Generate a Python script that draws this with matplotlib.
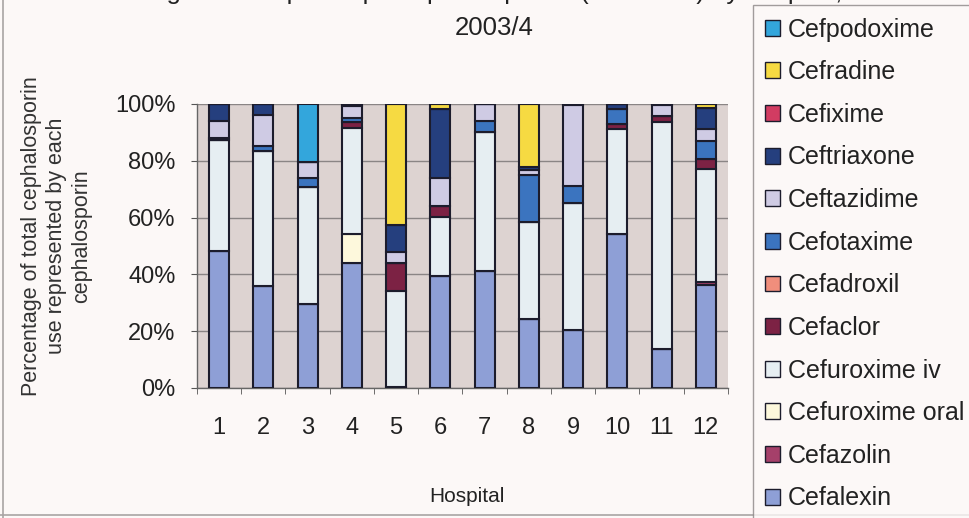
import numpy as np
import matplotlib
matplotlib.use("Agg")
import matplotlib.pyplot as plt
from matplotlib.patches import Patch
from matplotlib.lines import Line2D

plt.rcParams['font.family'] = ['Liberation Sans', 'DejaVu Sans']

# --- Дані: частка кожного цефалоспорину (%) по лікарнях ---
hospitals = ['1', '2', '3', '4', '5', '6', '7', '8', '9', '10', '11', '12']

drugs = ['Cefalexin', 'Cefazolin', 'Cefuroxime oral', 'Cefuroxime iv',
         'Cefaclor', 'Cefadroxil', 'Cefotaxime', 'Ceftazidime',
         'Ceftriaxone', 'Cefixime', 'Cefradine', 'Cefpodoxime']

cefalexin      = [48.2, 36.0, 29.7, 43.9, 0.5, 39.5, 41.1, 24.2, 20.3, 54.2, 13.6, 36.2]
cefazolin      = [0, 0, 0, 0, 0, 0, 0, 0, 0, 0, 0, 1.0]
cefuroxime_or  = [0, 0, 0, 10.2, 0, 0, 0, 0, 0, 0, 0, 0]
cefuroxime_iv  = [39.1, 47.4, 41.2, 37.6, 33.6, 20.8, 49.1, 34.1, 45.0, 36.9, 79.9, 39.8]
cefaclor       = [0, 0, 0, 2.1, 10.0, 3.7, 0, 0, 0, 1.7, 2.2, 3.5]
cefadroxil     = [0, 0, 0, 0, 0, 0, 0, 0, 0, 0, 0, 0]
cefotaxime     = [0.7, 1.8, 2.9, 1.2, 0, 0, 3.8, 16.7, 5.9, 5.6, 0, 6.6]
ceftazidime    = [6.0, 10.9, 5.9, 4.3, 3.8, 9.8, 6.0, 1.7, 28.4, 0, 3.9, 4.0]
ceftriaxone    = [6.0, 3.9, 0, 0.7, 9.4, 24.4, 0, 1.0, 0.4, 1.6, 0.4, 7.4]
cefixime       = [0, 0, 0, 0, 0, 0, 0, 0, 0, 0, 0, 0]
cefradine      = [0, 0, 0, 0, 42.7, 1.8, 0, 22.3, 0, 0, 0, 1.5]
cefpodoxime    = [0, 0, 20.3, 0, 0, 0, 0, 0, 0, 0, 0, 0]

series = [cefalexin, cefazolin, cefuroxime_or, cefuroxime_iv, cefaclor,
          cefadroxil, cefotaxime, ceftazidime, ceftriaxone, cefixime,
          cefradine, cefpodoxime]

colors = ['#8e9fd6', '#a5406a', '#fdf8dc', '#e6eef2', '#7c2244', '#f08e7c',
          '#3b74bf', '#cfcbe4', '#253f7e', '#d23c62', '#f6da42', '#33a6dc']

fig = plt.figure(figsize=(9.7, 5.18), dpi=100, facecolor='#fcf8f7')
ax = fig.add_axes([197 / 970, 1 - 388 / 518, 531 / 970, 284 / 518])
ax.set_facecolor('#ddd3d1')

x = np.arange(len(hospitals))
bottom = np.zeros(len(hospitals))
for vals, col in zip(series, colors):
    vals = np.array(vals, dtype=float)
    ax.bar(x, vals, bottom=bottom, width=0.45, color=col,
           edgecolor='#1c1c2c', linewidth=1.5, zorder=3)
    bottom += vals

ax.set_xlim(-0.5, len(hospitals) - 0.5)
ax.set_ylim(0, 100)
ax.set_yticks(np.arange(0, 101, 20))
ax.set_yticklabels([f'{v}%' for v in range(0, 101, 20)], fontsize=17, color='#222222')
ax.yaxis.grid(True, color='#8a8585', linewidth=1.0, zorder=0)

# підписи по центру категорій, риски - на межах
ax.set_xticks(x)
ax.set_xticklabels(hospitals, fontsize=17, color='#222222')
ax.tick_params(axis='x', length=0, pad=21)
ax.set_xticks(np.arange(-0.5, len(hospitals)), minor=True)
ax.tick_params(axis='x', which='minor', length=4.5, color='#555555')
ax.tick_params(axis='y', length=4.5, color='#555555', pad=11)

for s in ['top', 'right']:
    ax.spines[s].set_visible(False)
for s in ['left', 'bottom']:
    ax.spines[s].set_color('#666666')
    ax.spines[s].set_linewidth(1.0)

fig.text(467 / 970, 1 - 497 / 518, 'Hospital', ha='center', va='center',
         fontsize=15, family=['Liberation Sans Narrow', 'Liberation Sans'],
         color='#222222')
fig.text(57 / 970, 1 - 236 / 518,
         'Percentage of total cephalosporin\nuse represented by each\ncephalosporin',
         rotation=90, ha='center', va='center', fontsize=15.5, linespacing=1.25,
         color='#333333')

# заголовок: верхній рядок обрізаний краєм
fig.text(494 / 970, 1 + 1.5 / 518,
         'Figure 8: Cephalosporin prescriptions (% of total) by hospital,',
         ha='center', va='baseline', fontsize=18.5, color='#222222')
fig.text(494 / 970, 1 - 35 / 518, '2003/4',
         ha='center', va='baseline', fontsize=18.5, color='#222222')

# рамка області діаграми
fig.add_artist(Line2D([3 / 970, 3 / 970], [0, 1], transform=fig.transFigure,
                      color='#a9a4a4', linewidth=1.2))
fig.add_artist(Line2D([0, 1], [1 - 515 / 518, 1 - 515 / 518],
                      transform=fig.transFigure, color='#a9a4a4', linewidth=1.2))

handles = [Patch(facecolor=c, edgecolor='#1c1c2c', linewidth=1.0, label=d)
           for d, c in zip(drugs, colors)][::-1]
leg = fig.legend(handles=handles, loc='upper left',
                 bbox_to_anchor=(753 / 970, 1 - 5 / 518), fontsize=18,
                 frameon=True, fancybox=False, edgecolor='#8a8585',
                 facecolor='#fcf8f7', handlelength=0.6, handleheight=0.6,
                 handletextpad=0.3, labelspacing=0.745, borderpad=0.5,
                 borderaxespad=0)
leg.get_frame().set_linewidth(1.0)
for t in leg.get_texts():
    t.set_color('#222222')

fig.savefig('out.png', dpi=100, facecolor=fig.get_facecolor())
